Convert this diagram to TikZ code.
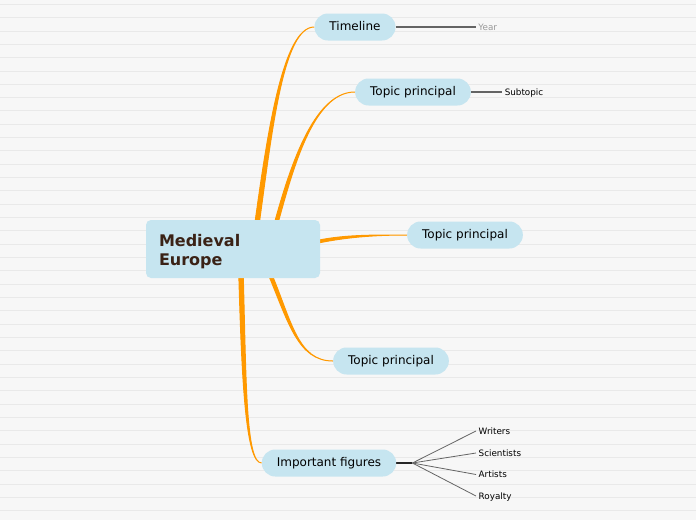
\documentclass[tikz,border=0pt]{standalone}
\usepackage{fontspec}
\setmainfont{DejaVu Sans}
\usetikzlibrary{positioning, calc}
\definecolor{paper}{RGB}{247,247,247}
\definecolor{ruleline}{RGB}{233,233,233}
\definecolor{topicblue}{RGB}{198,229,240}
\definecolor{branchorange}{RGB}{255,153,0}
\definecolor{titlebrown}{RGB}{58,34,22}
\definecolor{twiggray}{RGB}{100,100,100}
\pgfdeclarelayer{paper}
\pgfdeclarelayer{links}
\pgfsetlayers{paper,links,main}

% tapered branch: start, control 1, control 2, end, half width
\newcommand{\branch}[5]{%
  \filldraw[branch] ($(#1)+#5$) .. controls ($(#2)+#5$) and (#3) .. (#4)
    .. controls (#3) and ($(#2)-#5$) .. ($(#1)-#5$) -- cycle;}

\begin{document}
\begin{tikzpicture}[
    x=1pt, y=-1pt,
    title/.style={rounded corners=5pt, fill=topicblue, text width=148pt,
                  inner xsep=13pt, minimum height=58pt, align=left,
                  text height=18pt,
                  text=titlebrown, font=\fontsize{16}{19}\selectfont\bfseries},
    topic/.style={rounded corners=13.5pt, fill=topicblue, minimum height=27pt,
                  inner xsep=15pt, text height=9pt, text depth=2.5pt,
                  font=\fontsize{12}{14}\selectfont},
    leaf/.style={inner xsep=2.5pt, text height=8.5pt, text depth=2pt,
                 font=\fontsize{8.8}{10}\selectfont},
    branch/.style={fill=branchorange, draw=branchorange, line width=1pt},
    stem/.style={draw=twiggray, line width=1.1pt},
    hubline/.style={draw=black!85, line width=1.8pt},
    twig/.style={draw=twiggray, line width=0.8pt}
  ]
    \useasboundingbox (0,0) rectangle (696,520);
    \begin{pgfonlayer}{paper}
      \fill[paper] (0,0) rectangle (696,520);
      \foreach \k in {0,...,38}
        \draw[ruleline, line width=0.9pt] (0,4.3+13.33*\k) -- (696,4.3+13.33*\k);
    \end{pgfonlayer}

    \node[title] (centre) at (233,249) {Medieval\\Europe};
    \node[topic] (timeline) at (355,27) {Timeline};
    \node[topic] (topicA) at (413,92) {Topic principal};
    \node[topic] (topicB) at (465,235) {Topic principal};
    \node[topic] (topicC) at (391,361) {Topic principal};
    \node[topic] (figures) at (329,463) {Important figures};

    \node[leaf, text=black!40, right=80pt of timeline] (year) {Year};
    \node[leaf, right=31pt of topicA] (subtopic) {Subtopic};
    \coordinate[right=16pt of figures] (hub);
    \node[leaf, anchor=west] (writers) at (476,431) {Writers};
    \node[leaf, anchor=west] (scientists) at (476,453) {Scientists};
    \node[leaf, anchor=west] (artists) at (476,474.5) {Artists};
    \node[leaf, anchor=west] (royalty) at (476,496) {Royalty};

    \begin{pgfonlayer}{links}
      \coordinate (tl0) at ($(centre.north)+(24,4)$);
      \coordinate (ta0) at ($(centre.north)+(43,4)$);
      \coordinate (tb0) at ($(centre.east)+(-4,-7)$);
      \coordinate (tc0) at ($(centre.south)+(37,-4)$);
      \coordinate (fg0) at ($(centre.south)+(8,-4)$);
      \branch{tl0}{270,130}{$(timeline.west)+(-31,0)$}{timeline.west}{(2.2,0)}
      \branch{ta0}{291,170}{$(topicA.west)+(-42,0)$}{topicA.west}{(1.8,0)}
      \branch{tb0}{345,236}{$(topicB.west)+(-34,0)$}{topicB.west}{(0,1.4)}
      \branch{tc0}{290,322}{$(topicC.west)+(-35,0)$}{topicC.west}{(1.8,0)}
      \branch{fg0}{244,380}{$(figures.west)+(-16,0)$}{figures.west}{(2.2,0)}
      \draw[stem] (timeline) -- (year);
      \draw[stem] (topicA) -- (subtopic);
      \draw[hubline] (figures.east) -- (hub);
      \foreach \leafname in {writers, scientists, artists, royalty}
        \draw[twig] (hub) -- (\leafname.west);
    \end{pgfonlayer}
\end{tikzpicture}
\end{document}
